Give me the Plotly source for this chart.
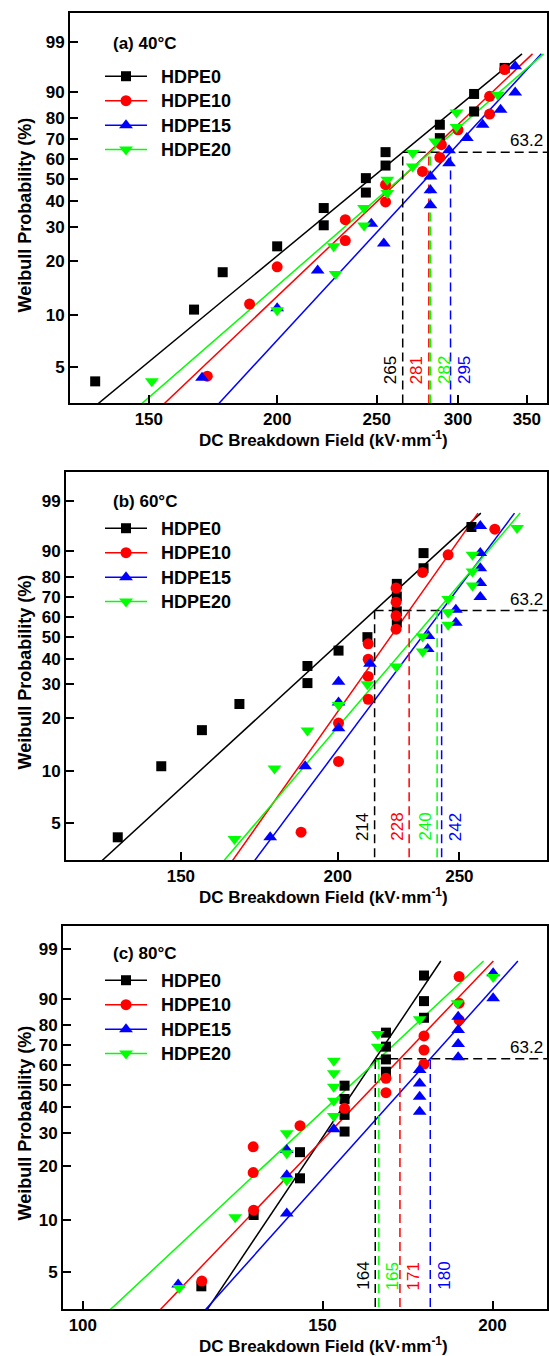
import numpy as np
import plotly.graph_objects as go

W, H = 549, 1356
FONT = "Liberation Sans, Arial, sans-serif"

SERIES = ["HDPE0", "HDPE10", "HDPE15", "HDPE20"]
COLORS = ["#000000", "#FF0000", "#0000FF", "#00FF00"]
SYMBOLS = ["square", "circle", "triangle-up", "triangle-down"]
MSIZES = [10, 11, 12, 12]
PANEL_TITLES = ["(a) 40°C", "(b) 60°C", "(c) 80°C"]

# ---------------- data (breakdown field kV/mm, probability %) ----------------
A_HDPE0_X = [133, 166, 177, 200, 222, 222, 244, 244, 255, 255, 288, 288, 311, 311, 333]
A_HDPE0_F = [4.1, 10.7, 17.3, 23.8, 30.5, 37.0, 43.6, 50.3, 56.5, 63.3, 70.4, 76.9, 82.8, 89.4, 96.0]
A_HDPE10_X = [171, 188, 200, 233, 233, 255, 255, 277, 288, 289, 300, 322, 322, 333]
A_HDPE10_F = [4.4, 11.5, 18.5, 25.5, 32.5, 39.5, 47.2, 53.6, 60.6, 67.1, 74.5, 81.7, 88.6, 95.7]
A_HDPE15_X = [169, 200, 219, 254, 247, 282, 282, 282, 294, 294, 306, 317, 330, 341, 341]
A_HDPE15_F = [4.3, 10.9, 17.7, 24.6, 31.0, 38.1, 44.6, 51.1, 57.7, 64.2, 70.4, 76.9, 83.5, 89.9, 96.3]
A_HDPE20_X = [151, 200, 228, 227, 243, 243, 256, 256, 271, 271, 285, 299, 299, 328]
A_HDPE20_F = [4.1, 10.6, 16.9, 23.8, 30.4, 37.0, 43.4, 49.5, 56.0, 62.9, 68.7, 75.8, 82.4, 89.1]

B_HDPE0_X = [133.6, 144.7, 155.9, 167.0, 189.2, 189.2, 200.3, 211.2, 222.9, 222.9, 222.9, 222.9, 234.1, 234.1, 255.6]
B_HDPE0_F = [4.1, 10.7, 17.1, 23.7, 30.4, 36.9, 43.5, 49.8, 57.0, 62.8, 70.4, 76.6, 83.6, 89.3, 96.0]
B_HDPE10_X = [187.0, 200.3, 200.3, 211.5, 211.5, 211.5, 211.5, 222.6, 222.6, 222.6, 222.6, 233.7, 244.9, 266.8]
B_HDPE10_F = [4.4, 11.4, 18.7, 25.1, 32.8, 39.7, 46.6, 53.7, 60.5, 67.5, 74.6, 81.8, 88.7, 95.6]
B_HDPE15_X = [176.7, 188.4, 200.3, 200.3, 200.3, 212.2, 235.9, 236.2, 248.4, 248.4, 259.8, 259.8, 259.8, 259.8, 259.8]
B_HDPE15_F = [4.1, 10.7, 17.5, 24.1, 30.9, 37.8, 44.2, 50.4, 57.0, 63.6, 70.1, 77.0, 83.6, 89.3, 96.2]
B_HDPE20_X = [165.5, 178.1, 189.2, 200.3, 211.2, 222.6, 233.7, 233.7, 244.9, 244.9, 244.9, 256.1, 256.1, 256.1, 277.9]
B_HDPE20_F = [4.0, 10.4, 17.0, 23.4, 30.0, 36.7, 43.1, 50.1, 55.9, 62.2, 69.1, 75.8, 82.2, 88.7, 95.8]

C_HDPE0_X = [122.2, 133.5, 144.4, 144.4, 155.7, 155.7, 155.7, 155.7, 167.0, 167.0, 167.0, 167.0, 178.1, 178.1, 178.1]
C_HDPE0_F = [4.1, 10.7, 17.2, 23.8, 30.4, 36.7, 43.5, 49.7, 56.6, 62.9, 69.4, 76.3, 83.0, 89.3, 95.9]
C_HDPE10_X = [122.3, 133.5, 133.4, 133.4, 144.4, 155.7, 167.0, 167.0, 178.1, 178.1, 178.1, 189.0, 189.0, 189.0]
C_HDPE10_F = [4.4, 11.4, 18.5, 25.4, 32.5, 39.4, 46.4, 53.3, 60.5, 67.7, 74.7, 82.1, 88.6, 95.7]
C_HDPE15_X = [117.5, 141.2, 141.2, 141.2, 152.9, 176.8, 176.8, 176.8, 176.8, 188.7, 188.7, 188.7, 188.7, 200.2, 200.2]
C_HDPE15_F = [4.2, 10.9, 17.9, 24.4, 31.2, 38.0, 44.5, 50.8, 57.5, 64.0, 70.7, 77.5, 83.4, 90.2, 96.3]
C_HDPE20_X = [117.7, 129.4, 141.2, 141.2, 141.2, 152.9, 152.9, 152.9, 152.9, 152.9, 164.7, 164.7, 176.8, 188.5, 200.2]
C_HDPE20_F = [4.0, 10.4, 16.8, 23.5, 29.8, 36.2, 42.7, 49.2, 55.8, 62.2, 69.4, 75.7, 82.4, 88.6, 95.6]

# Weibull scale (alpha, kV/mm) and shape (beta) of fitted lines, order = SERIES
A_ALPHA = [265, 281, 295, 282]
A_BETA = [5.1, 5.87, 6.7, 5.38]
B_ALPHA = [214, 228, 242, 240]
B_BETA = [7.0, 10.8, 10.2, 8.95]
C_ALPHA = [164, 171, 180, 165]
C_BETA = [12.3, 8.63, 9.2, 7.7]

X_TICKS_A = [150, 200, 250, 300, 350]
X_TICKS_B = [150, 200, 250]
X_TICKS_C = [100, 150, 200]
Y_TICKS = [5, 10, 20, 30, 40, 50, 60, 70, 80, 90, 99]
F_LINE_TOP = 98.0
F_CHAR = 63.2

# ---------------- layout geometry (pixels) ----------------
PANELS = [
    dict(data=[(A_HDPE0_X, A_HDPE0_F), (A_HDPE10_X, A_HDPE10_F), (A_HDPE15_X, A_HDPE15_F), (A_HDPE20_X, A_HDPE20_F)],
         alpha=A_ALPHA, beta=A_BETA, xticks=X_TICKS_A, xr=(125.7, 366.2), wr=(-3.473, 1.93),
         box=(70, 547, 13, 403), side=["right", "right", "left", "left"], legend_top=59, label_y=43.5, ytitle_y=215),
    dict(data=[(B_HDPE0_X, B_HDPE0_F), (B_HDPE10_X, B_HDPE10_F), (B_HDPE15_X, B_HDPE15_F), (B_HDPE20_X, B_HDPE20_F)],
         alpha=B_ALPHA, beta=B_BETA, xticks=X_TICKS_B, xr=(121.5, 293.6), wr=(-3.491, 1.939),
         box=(66, 547, 472, 860), side=["right", "right", "left", "right"], legend_top=511, label_y=502, ytitle_y=672),
    dict(data=[(C_HDPE0_X, C_HDPE0_F), (C_HDPE10_X, C_HDPE10_F), (C_HDPE15_X, C_HDPE15_F), (C_HDPE20_X, C_HDPE20_F)],
         alpha=C_ALPHA, beta=C_BETA, xticks=X_TICKS_C, xr=(96.7, 219.3), wr=(-3.49, 1.852),
         box=(63, 547, 926, 1309), side=["right", "left", "left", "left"], legend_top=963, label_y=953, ytitle_y=1123),
]


def wb(F):
    return np.log(-np.log(1 - np.asarray(F, dtype=float) / 100.0))


fig = go.Figure()
annotations = []
layout = {}
W_TOP = float(wb(F_LINE_TOP))
W_LOW = -6.0

for p, P in enumerate(PANELS):
    sfx = "" if p == 0 else str(p + 1)
    xa, ya = "x" + sfx, "y" + sfx
    leg = "legend" + sfx
    x0, x1, y0, y1 = P["box"]

    # fitted Weibull lines
    for i, s in enumerate(SERIES):
        a, b = P["alpha"][i], P["beta"][i]
        ws = np.array([W_LOW, W_TOP])
        fig.add_trace(go.Scatter(x=a * np.exp(ws / b), y=ws, mode="lines", xaxis=xa, yaxis=ya,
                                 line=dict(color=COLORS[i], width=1.5), showlegend=False, hoverinfo="skip"))
    # characteristic dashed lines
    amin = min(P["alpha"])
    fig.add_trace(go.Scatter(x=[amin, P["xr"][1] * 1.5], y=[0, 0], mode="lines", xaxis=xa, yaxis=ya,
                             line=dict(color="black", width=1.5, dash="9px,5px"), showlegend=False, hoverinfo="skip"))
    for i, s in enumerate(SERIES):
        a = P["alpha"][i]
        fig.add_trace(go.Scatter(x=[a, a], y=[W_LOW, 0], mode="lines", xaxis=xa, yaxis=ya,
                                 line=dict(color=COLORS[i], width=1.5, dash="9px,5px"), showlegend=False, hoverinfo="skip"))
    # data points
    for i, s in enumerate(SERIES):
        xs, fs = P["data"][i]
        mk = dict(symbol=SYMBOLS[i], color=COLORS[i], size=MSIZES[i], line=dict(width=0))
        fig.add_trace(go.Scatter(x=xs, y=wb(fs), mode="markers", xaxis=xa, yaxis=ya,
                                 marker=mk, showlegend=False, name=s))
        fig.add_trace(go.Scatter(x=[None], y=[None], mode="lines+markers", xaxis=xa, yaxis=ya,
                                 name='<span style="font-size:18px">\u2002' + s + '</span>',
                                 legend=leg, line=dict(color=COLORS[i], width=1.5),
                                 marker=mk, showlegend=True))

    axis_common = dict(showline=True, linewidth=2, linecolor="black", mirror=True, ticks="inside", ticklen=8,
                       tickwidth=2, tickcolor="black", showgrid=False, zeroline=False,
                       tickfont=dict(family=FONT, size=17, color="black", weight="bold"))
    layout["xaxis" + sfx] = dict(axis_common, type="log", domain=[x0 / W, x1 / W],
                                 range=[np.log10(P["xr"][0]), np.log10(P["xr"][1])],
                                 tickvals=P["xticks"], ticktext=[str(t) for t in P["xticks"]], anchor=ya)
    layout["yaxis" + sfx] = dict(axis_common, domain=[1 - y1 / H, 1 - y0 / H], range=list(P["wr"]),
                                 tickvals=list(wb(Y_TICKS)), ticktext=[str(t) for t in Y_TICKS], anchor=xa)
    layout[leg] = dict(x=100 / W, y=1 - P["legend_top"] / H, xanchor="left", yanchor="top",
                       bgcolor="rgba(0,0,0,0)", borderwidth=0, itemwidth=42,
                       font=dict(family=FONT, size=16.5, color="black", weight="bold"))

    # alpha labels
    for i, s in enumerate(SERIES):
        side = P["side"][i]
        annotations.append(dict(x=np.log10(P["alpha"][i]), y=0, xref=xa, yref=ya + " domain",
                                text=str(P["alpha"][i]), textangle=-90, showarrow=False,
                                xanchor=side, yanchor="bottom", yshift=17,
                                xshift=-1 if side == "right" else 2,
                                font=dict(family=FONT, size=17, color=COLORS[i])))
    annotations.append(dict(x=1, y=0, xref=xa + " domain", yref=ya, text=str(F_CHAR), showarrow=False,
                            xanchor="right", yanchor="bottom", xshift=-2, yshift=0,
                            font=dict(family=FONT, size=17, color="black")))
    annotations.append(dict(x=111 / W, y=1 - P["label_y"] / H, xref="paper", yref="paper",
                            text="<b>" + PANEL_TITLES[p] + "</b>", showarrow=False, xanchor="left", yanchor="middle",
                            font=dict(family=FONT, size=17, color="black")))
    annotations.append(dict(x=323 / W, y=1 - (y1 + 36) / H, xref="paper", yref="paper",
                            text="<b>DC Breakdown Field (kV·mm<sup>-1</sup>)</b>", showarrow=False,
                            xanchor="center", yanchor="middle",
                            font=dict(family=FONT, size=17, color="black")))
    annotations.append(dict(x=24.5 / W, y=1 - P["ytitle_y"] / H, xref="paper", yref="paper",
                            text="<b>Weibull Probability (%)</b>", textangle=-90, showarrow=False,
                            xanchor="center", yanchor="middle",
                            font=dict(family=FONT, size=18, color="black")))

fig.update_layout(width=W, height=H, margin=dict(l=0, r=0, t=0, b=0), paper_bgcolor="white",
                  plot_bgcolor="white", annotations=annotations, **layout)
fig.write_html("out.html")
